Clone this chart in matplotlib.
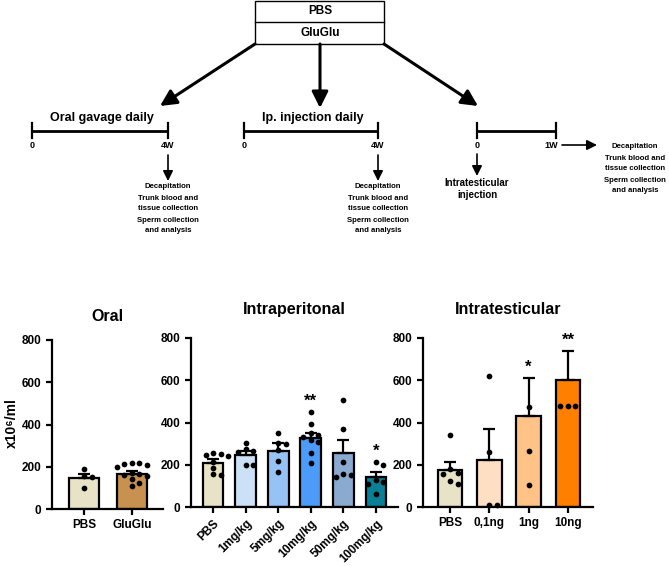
import matplotlib
matplotlib.use('Agg')
import matplotlib.pyplot as plt
from matplotlib.patches import Rectangle
import numpy as np

plt.rcParams['font.family'] = ['Liberation Sans', 'DejaVu Sans']
plt.rcParams['font.weight'] = 'bold'
plt.rcParams['axes.titleweight'] = 'bold'

W, H = 669, 566

# ── data ──────────────────────────────────────────────────────────────────────
oral_labels = ['PBS', 'GluGlu']
oral_means = [148, 168]
oral_sems = [20, 14]
oral_points = [[187, 100, 150, 155],
               [220, 218, 215, 208, 200, 165, 160, 155, 140, 125, 110, 172]]
oral_colors = ['#E8E3C6', '#C9914F']

ip_labels = ['PBS', '1mg/kg', '5mg/kg', '10mg/kg', '50mg/kg', '100mg/kg']
ip_means = [210, 248, 263, 325, 255, 140]
ip_sems = [16, 19, 38, 24, 62, 25]
ip_points = [[255, 253, 245, 240, 212, 185, 150, 155],
             [305, 275, 265, 258, 200, 200],
             [350, 302, 300, 270, 218, 168],
             [450, 395, 350, 340, 330, 318, 310, 255, 210],
             [505, 370, 215, 155, 140, 150],
             [200, 212, 130, 120, 110, 63]]
ip_colors = ['#E8E3C6', '#CCE0F7', '#96C2F5', '#4D9BF8', '#8AAAD0', '#0A7F96']
ip_stars = ['', '', '', '**', '', '*']

it_labels = ['PBS', '0,1ng', '1ng', '10ng']
it_means = [176, 223, 431, 601]
it_sems = [36, 146, 181, 137]
it_points = [[343, 178, 155, 160, 108, 122],
             [620, 260, 10, 10],
             [475, 266, 102],
             [478, 478, 478]]
it_colors = ['#E8E3C6', '#FFDFC3', '#FFC287', '#FF8000']
it_stars = ['', '', '*', '**']

fig = plt.figure(figsize=(W / 100, H / 100), dpi=100)


def px_axes(x0, y0, x1, y1):
    return fig.add_axes([x0 / W, 1 - y1 / H, (x1 - x0) / W, (y1 - y0) / H])


# ── schematic (pixel coordinates) ─────────────────────────────────────────────
sk = fig.add_axes([0, 0, 1, 1])
sk.set_xlim(0, W)
sk.set_ylim(H, 0)
sk.axis('off')

sk.add_patch(Rectangle((255, 1), 129, 43, fill=False, lw=1, ec='black'))
sk.plot([255, 384], [22, 22], color='black', lw=1)
sk.text(320, 11.5, 'PBS', ha='center', va='center', fontsize=8.5)
sk.text(320, 33, 'GluGlu', ha='center', va='center', fontsize=8.5)

big = dict(arrowstyle='-|>,head_length=0.7,head_width=0.35', color='black',
           lw=2.2, shrinkA=0, shrinkB=0, mutation_scale=14)
small = dict(arrowstyle='-|>,head_length=0.6,head_width=0.3', color='black',
             lw=1.2, shrinkA=0, shrinkB=0, mutation_scale=10)
sk.annotate('', xy=(160, 106), xytext=(255, 44), arrowprops=big)
sk.annotate('', xy=(320, 108), xytext=(320, 44), arrowprops=big)
sk.annotate('', xy=(478, 106), xytext=(384, 44), arrowprops=big)


def timeline(x0, x1, lab0, lab1, lab1_x=None):
    sk.plot([x0, x1], [131, 131], color='black', lw=2, solid_capstyle='butt')
    for x in (x0, x1):
        sk.plot([x, x], [123, 138], color='black', lw=1.6)
    sk.text(x0, 146, lab0, ha='center', va='center', fontsize=6.5)
    sk.text(x1 if lab1_x is None else lab1_x, 146, lab1,
            ha='center', va='center', fontsize=6.5)


def outcome(x, y, dy=(0, 12, 22, 35, 45)):
    lines = ['Decapitation', 'Trunk blood and', 'tissue collection',
             'Sperm collection', 'and analysis']
    for d, t in zip(dy, lines):
        sk.text(x, y + d, t, ha='center', va='center', fontsize=5.6)


timeline(32, 168, '0', '4W')
sk.text(102, 118, 'Oral gavage daily', ha='center', va='center', fontsize=9)
sk.annotate('', xy=(168, 181), xytext=(168, 155), arrowprops=small)
outcome(168, 186)

timeline(244, 378, '0', '4W')
sk.text(313, 118, 'Ip. injection daily', ha='center', va='center', fontsize=9)
sk.annotate('', xy=(378, 181), xytext=(378, 155), arrowprops=small)
outcome(378, 186)

timeline(477, 556, '0', '1W', lab1_x=551)
sk.annotate('', xy=(597, 145), xytext=(562, 145), arrowprops=small)
outcome(635, 146)
sk.annotate('', xy=(477, 176), xytext=(477, 154), arrowprops=small)
sk.text(477, 183, 'Intratesticular', ha='center', va='center', fontsize=7)
sk.text(477, 195, 'injection', ha='center', va='center', fontsize=7)


# ── bar panels ────────────────────────────────────────────────────────────────
def swarm(vals, px_x, px_y, d=5.5, step=7.5):
    # simple beeswarm in pixel units, at most two steps either side
    placed = []
    offs = np.zeros(len(vals))
    order = np.argsort(vals)[::-1]
    for i in order:
        y = vals[i] * px_y
        best, best_gap = 0.0, -1.0
        for k in [0, 1, -1, 2, -2]:
            x = k * step
            gap = min([np.hypot(x - px, y - py) for px, py in placed] or [99])
            if gap >= d:
                best = x
                break
            if gap > best_gap:
                best, best_gap = x, gap
        placed.append((best, y))
        offs[i] = best / px_x
    return offs


def panel(ax, labels, means, sems, points, colors, title, xlim, px_w,
          stars=None, rot=False, width=0.64, pad=17):
    x = np.arange(len(labels))
    ax.bar(x, means, width=width, color=colors, edgecolor='black',
           linewidth=1.6, zorder=2)
    ax.errorbar(x, means, yerr=[np.zeros(len(sems)), sems], fmt='none',
                ecolor='black', elinewidth=1.6, capsize=4, capthick=1.6, zorder=3)
    ax.set_xlim(*xlim)
    ax.set_ylim(0, 800)
    h_px = ax.get_position().height * H
    px_x = px_w / (xlim[1] - xlim[0])
    px_y = h_px / 800
    for i, vals in enumerate(points):
        vals = np.array(vals, float)
        ax.scatter(i + swarm(vals, px_x, px_y), vals, s=17, color='black',
                   zorder=4, clip_on=False, linewidths=0)
        if stars and stars[i]:
            top = max(vals.max(), means[i] + sems[i])
            ax.text(i, top + 50, stars[i], ha='center', va='center', fontsize=12)
    ax.set_yticks([0, 200, 400, 600, 800])
    ax.set_xticks(x)
    if rot:
        ax.set_xticklabels(labels, rotation=45, ha='right',
                           rotation_mode='anchor', fontsize=8.5)
    else:
        ax.set_xticklabels(labels, fontsize=8.5)
    ax.tick_params(direction='out', length=4, width=1.6, labelsize=8.5)
    for s in ('top', 'right'):
        ax.spines[s].set_visible(False)
    for s in ('left', 'bottom'):
        ax.spines[s].set_linewidth(1.6)
    ax.set_title(title, fontsize=11.5, pad=pad)


ax1 = px_axes(52, 340, 163, 509)
panel(ax1, oral_labels, oral_means, oral_sems, oral_points, oral_colors,
      'Oral', (-0.667, 1.646), 111, pad=14)

ax2 = px_axes(191, 338, 398, 507)
panel(ax2, ip_labels, ip_means, ip_sems, ip_points, ip_colors,
      'Intraperitonal', (-0.675, 5.675), 207, stars=ip_stars, rot=True)

ax3 = px_axes(423, 338, 593, 507)
panel(ax3, it_labels, it_means, it_sems, it_points, it_colors,
      'Intratesticular', (-0.687, 3.636), 170, stars=it_stars, width=0.62)

fig.text(12 / W, 1 - 423 / H, 'x10⁶/ml', rotation=90, ha='center',
         va='center', fontsize=10)

fig.savefig('out.png', dpi=100)
